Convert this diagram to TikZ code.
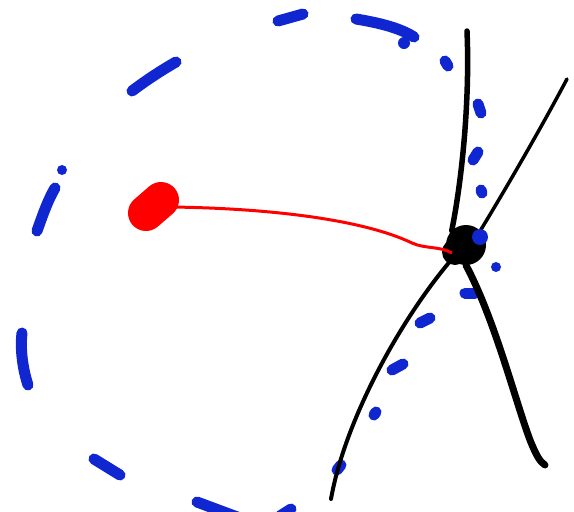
\documentclass[tikz,border=0pt]{standalone}
\usetikzlibrary{positioning}
\definecolor{penblue}{RGB}{16,38,208}
\tikzstyle{bluestroke}=[draw=penblue,line width=11pt,line cap=round]
\tikzstyle{bluedot}=[fill=penblue]
\tikzstyle{inkline}=[draw=black,line cap=round]
\tikzstyle{blob}=[circle,inner sep=0pt]

\begin{document}
\begin{tikzpicture}[x=1pt,y=-1pt]
\useasboundingbox (0,0) rectangle (574,512);
% ends of the two black lines
\coordinate (upA) at (467,31);
\coordinate (lowA) at (545,465);
\coordinate (upB) at (567,79);
\coordinate (lowB) at (331,499);
% dashed circle, stroke by stroke
\draw[bluestroke] (278,21) -- (303,14);
\draw[bluestroke] (356,19) .. controls (380,23) and (400,28) .. (414,37);
\fill[bluedot] (404,43) circle (6pt);
\draw[bluestroke] (445,61) -- (448,66);
\draw[bluestroke] (478,104) -- (481,113);
\draw[bluestroke] (478,152) -- (473,160);
\draw[bluestroke] (481,190) -- (482,193);
\draw[bluestroke] (132,91) .. controls (148,79) and (162,70) .. (176,62);
\fill[bluedot] (62,170) circle (5pt);
\draw[bluestroke] (37,231) .. controls (43,214) and (48,200) .. (55,188);
\draw[bluestroke] (22,333) .. controls (20,350) and (23,370) .. (28,385);
\draw[bluestroke] (94,459) -- (120,475);
\draw[bluestroke] (197,502) -- (240,518);
\draw[bluestroke] (291,509) -- (280,516);
\draw[bluestroke] (337,470) -- (341,465);
\draw[bluestroke] (374,415) -- (376,412);
\draw[bluestroke] (392,370) -- (403,364);
\draw[bluestroke] (420,323) -- (430,318);
\draw[bluestroke] (465,293) -- (475,293);
\fill[bluedot] (496,267) circle (5pt);
% the two black lines and where they cross
\node[blob,fill=black,minimum size=40pt] (hub) at (466,245) {};
\fill[black] (455,252) circle (13pt);
\draw[inkline,line width=5.5pt] (hub.north west) .. controls (462,180) and (470,100) .. (upA);
\draw[inkline,line width=7pt] (hub.south) .. controls (495,320) and (515,400) .. (530,440) .. controls (536,455) and (540,462) .. (lowA);
\draw[inkline,line width=3.5pt] (hub.north east) .. controls (505,190) and (540,130) .. (upB);
\draw[inkline,line width=4pt] (hub.south west) .. controls (400,320) and (345,420) .. (lowB);
\fill[bluedot] (480,237) circle (8pt);
% red spot and its line
\node[blob,minimum size=34pt] (spot) at (153,207) {};
\draw[red,line width=36pt,line cap=round] (146,213) -- (161,200);
\draw[red,line width=3pt] (spot.east) .. controls (260,208) and (360,218) .. (412,243) .. controls (425,249) and (440,246) .. ([shift={(-14,8)}]hub.center);
\end{tikzpicture}
\end{document}
